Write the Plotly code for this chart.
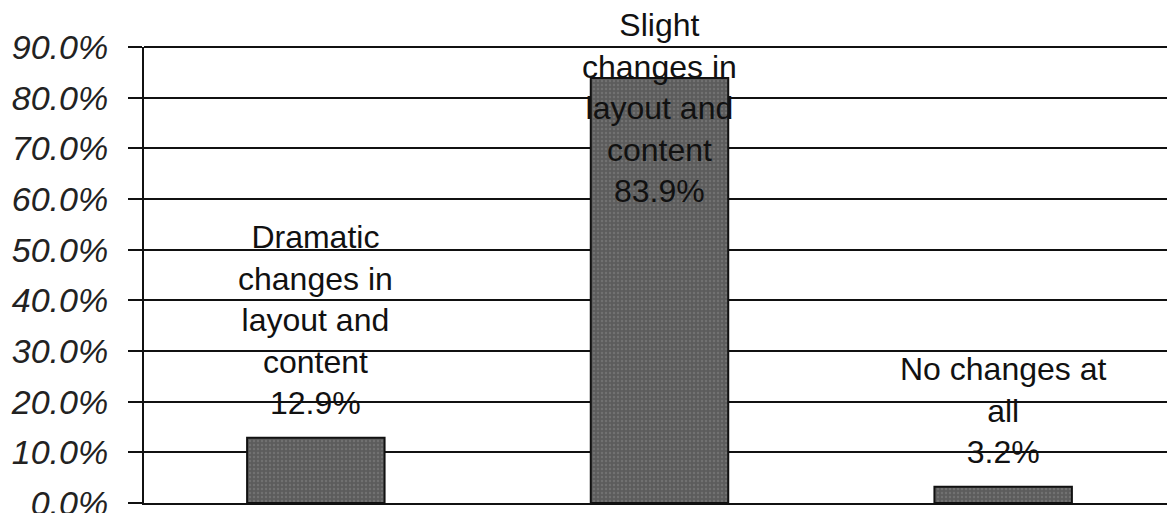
import plotly.graph_objects as go

categories = ["Dramatic changes in layout and content",
              "Slight changes in layout and content",
              "No changes at all"]
label_lines = ["Dramatic<br>changes in<br>layout and<br>content",
               "Slight<br>changes in<br>layout and<br>content",
               "No changes at<br>all"]
values = [0.129, 0.839, 0.032]
tick_vals = [0.0, 0.1, 0.2, 0.3, 0.4, 0.5, 0.6, 0.7, 0.8, 0.9]
tick_text = ["0.0%", "10.0%", "20.0%", "30.0%", "40.0%", "50.0%",
             "60.0%", "70.0%", "80.0%", "90.0%"]

fig = go.Figure()
fig.add_trace(go.Bar(
    x=categories, y=values, width=0.4,
    marker=dict(color="#606060",
                line=dict(color="#111111", width=2),
                pattern=dict(shape=".", fgcolor="#858585", bgcolor="#5c5c5c",
                             size=4, solidity=0.3)),
    hoverinfo="skip", showlegend=False,
))

label_font = dict(family="Liberation Sans, Arial, sans-serif", size=32, color="#111111")
annotations = []
for i, (cat, lines, v) in enumerate(zip(categories, label_lines, values)):
    text = f"{lines}<br>{v * 100:.1f}%"
    if v > 0.5:
        annotations.append(dict(x=cat, xref="x", y=1, yref="paper", yanchor="top",
                                yshift=42, text=text, showarrow=False,
                                font=label_font, align="center"))
    else:
        annotations.append(dict(x=cat, xref="x", y=v, yref="y", yanchor="bottom",
                                yshift=15, text=text, showarrow=False,
                                font=label_font, align="center"))

# top grid line at 90% (plotly omits the gridline at the very edge)
fig.add_shape(type="line", xref="paper", yref="paper", x0=0, x1=1, y0=1, y1=1,
              line=dict(color="#111111", width=2))

# the page body has an 8px margin, so the figure is sized and offset to match
fig.update_layout(
    width=1167, height=505,
    margin=dict(l=136, r=0, t=39, b=10, pad=0),
    paper_bgcolor="white", plot_bgcolor="white",
    annotations=annotations,
    xaxis=dict(type="category", range=[-0.5, 2.5], showticklabels=False,
               showgrid=False, zeroline=False, showline=True,
               linecolor="#111111", linewidth=2, ticks="", automargin=False),
    yaxis=dict(range=[0, 0.9], tickvals=tick_vals, ticktext=tick_text,
               showgrid=True, gridcolor="#111111", gridwidth=2,
               zeroline=False, showline=True, linecolor="#111111", linewidth=2,
               ticks="outside", ticklen=14, tickwidth=2, tickcolor="#111111",
               ticklabelstandoff=13, automargin=False, ticklabeloverflow="allow",
               tickfont=dict(family="Liberation Sans, Arial, sans-serif",
                             size=34, color="#222222", style="italic")),
    bargap=0.6,
)

fig.write_html("out.html")
